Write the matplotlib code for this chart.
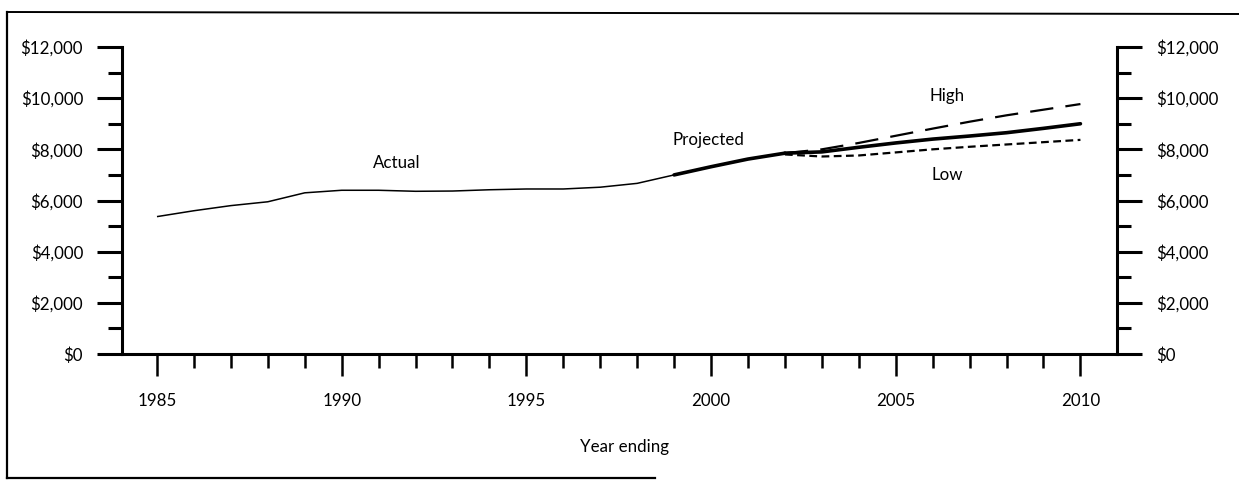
import matplotlib
matplotlib.use("Agg")
import matplotlib.pyplot as plt
from matplotlib.ticker import MultipleLocator, FuncFormatter
from matplotlib.lines import Line2D

plt.rcParams['font.family'] = ['Lato', 'DejaVu Sans']

# ---- data ----
years_actual = [1985, 1986, 1987, 1988, 1989, 1990, 1991, 1992, 1993, 1994,
                1995, 1996, 1997, 1998, 1999]
actual = [5370, 5600, 5800, 5950, 6300, 6400, 6400, 6360, 6370, 6420,
          6450, 6450, 6520, 6670, 7000]

years_proj = [1999, 2000, 2001, 2002]
projected = [7000, 7320, 7620, 7850]

years_scen = [2002, 2003, 2004, 2005, 2006, 2007, 2008, 2009, 2010]
middle = [7850, 7900, 8080, 8250, 8400, 8520, 8650, 8820, 9000]
high = [7850, 8000, 8250, 8530, 8810, 9080, 9330, 9550, 9770]
low = [7800, 7720, 7760, 7880, 8000, 8100, 8190, 8280, 8370]

x_major = [1985, 1990, 1995, 2000, 2005, 2010]
y_major = [0, 2000, 4000, 6000, 8000, 10000, 12000]
x_label = "Year ending"

FS = 12.2

W, H = 1239, 480
fig = plt.figure(figsize=(W / 100, H / 100), dpi=100)
ax = fig.add_axes([122 / W, 1 - 354 / H, (1117 - 122) / W, (354 - 47) / H])

ax.plot(years_actual, actual, color='black', lw=1.1, solid_capstyle='butt')
ax.plot(years_proj, projected, color='black', lw=2.6, solid_capstyle='round')
ax.plot(years_scen, middle, color='black', lw=2.6, solid_capstyle='round')
ax.plot(years_scen, high, color='black', lw=1.6, dashes=(10.5, 5.5))
ax.plot(years_scen, low, color='black', lw=1.6, dashes=(3.5, 2.0))

ax.set_xlim(1984.053, 2010.99)
ax.set_ylim(0, 12000)

ax.xaxis.set_minor_locator(MultipleLocator(1))
ax.set_xticks(x_major)
ax.yaxis.set_minor_locator(MultipleLocator(1000))
ax.set_yticks(y_major)
ax.yaxis.set_major_formatter(FuncFormatter(lambda v, p: "${:,.0f}".format(v)))

ax.spines['top'].set_visible(False)
for s in ['left', 'right', 'bottom']:
    ax.spines[s].set_linewidth(2.2)

ax.tick_params(axis='y', which='major', direction='out', length=18, width=2.2,
               labelsize=FS, pad=10, left=True, right=True,
               labelleft=True, labelright=True)
ax.tick_params(axis='y', which='minor', direction='out', length=10, width=2.2,
               left=True, right=True)
ax.tick_params(axis='x', which='major', direction='out', length=16, width=1.8,
               labelsize=FS, pad=12)
ax.tick_params(axis='x', which='minor', direction='out', length=10, width=1.8)

ax.text(1991.50, 7470, "Actual", ha='center', va='center', fontsize=FS)
ax.text(1999.92, 8360, "Projected", ha='center', va='center', fontsize=FS)
ax.text(2006.39, 10080, "High", ha='center', va='center', fontsize=FS)
ax.text(2006.39, 7000, "Low", ha='center', va='center', fontsize=FS)

fig.text(624 / W, 1 - 447 / H, x_label, ha='center', va='center', fontsize=FS)

# outer frame (partial, as in the scan)
fig.add_artist(Line2D([7 / W, 7 / W], [1 - 478 / H, 1 - 12 / H],
                      color='black', lw=1.6, transform=fig.transFigure))
fig.add_artist(Line2D([7 / W, 1.0], [1 - 12 / H, 1 - 14 / H],
                      color='black', lw=1.4, transform=fig.transFigure))
fig.add_artist(Line2D([7 / W, 655 / W], [1 - 478 / H, 1 - 478 / H],
                      color='black', lw=1.6, transform=fig.transFigure))

fig.savefig("out.png", dpi=100)
